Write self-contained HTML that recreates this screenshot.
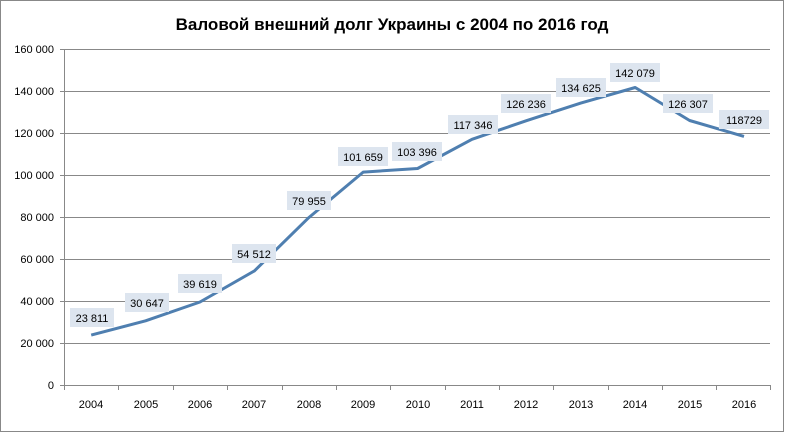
<!DOCTYPE html><html><head><style>body{margin:0;background:#fff}</style></head><body>
<svg width="785" height="433" xmlns="http://www.w3.org/2000/svg" font-family="Liberation Sans, sans-serif">
<rect x="0.5" y="0.5" width="783" height="431" fill="#fff" stroke="#888"/>
<text x="392" y="30" text-anchor="middle" font-size="17" font-weight="bold" fill="#000">Валовой внешний долг Украины с 2004 по 2016 год</text>
<g stroke="#888" stroke-width="1">
<line x1="64" y1="49.5" x2="770" y2="49.5"/><line x1="64" y1="91.5" x2="770" y2="91.5"/><line x1="64" y1="133.5" x2="770" y2="133.5"/><line x1="64" y1="175.5" x2="770" y2="175.5"/><line x1="64" y1="217.5" x2="770" y2="217.5"/><line x1="64" y1="259.5" x2="770" y2="259.5"/><line x1="64" y1="301.5" x2="770" y2="301.5"/><line x1="64" y1="343.5" x2="770" y2="343.5"/><line x1="64" y1="385.5" x2="770" y2="385.5"/>
<line x1="64.5" y1="49" x2="64.5" y2="390"/>
<line x1="60" y1="49.5" x2="64" y2="49.5"/><line x1="60" y1="91.5" x2="64" y2="91.5"/><line x1="60" y1="133.5" x2="64" y2="133.5"/><line x1="60" y1="175.5" x2="64" y2="175.5"/><line x1="60" y1="217.5" x2="64" y2="217.5"/><line x1="60" y1="259.5" x2="64" y2="259.5"/><line x1="60" y1="301.5" x2="64" y2="301.5"/><line x1="60" y1="343.5" x2="64" y2="343.5"/><line x1="60" y1="385.5" x2="64" y2="385.5"/>
<line x1="118.5" y1="385" x2="118.5" y2="390"/><line x1="173.5" y1="385" x2="173.5" y2="390"/><line x1="227.5" y1="385" x2="227.5" y2="390"/><line x1="282.5" y1="385" x2="282.5" y2="390"/><line x1="336.5" y1="385" x2="336.5" y2="390"/><line x1="390.5" y1="385" x2="390.5" y2="390"/><line x1="445.5" y1="385" x2="445.5" y2="390"/><line x1="499.5" y1="385" x2="499.5" y2="390"/><line x1="553.5" y1="385" x2="553.5" y2="390"/><line x1="608.5" y1="385" x2="608.5" y2="390"/><line x1="662.5" y1="385" x2="662.5" y2="390"/><line x1="716.5" y1="385" x2="716.5" y2="390"/><line x1="770.5" y1="385" x2="770.5" y2="390"/>
</g>
<g font-size="11" fill="#000" text-anchor="end">
<text x="54" y="53">160 000</text><text x="54" y="95">140 000</text><text x="54" y="137">120 000</text><text x="54" y="179">100 000</text><text x="54" y="221">80 000</text><text x="54" y="263">60 000</text><text x="54" y="305">40 000</text><text x="54" y="347">20 000</text><text x="54" y="389">0</text>
</g>
<g font-size="11" fill="#000" text-anchor="middle">
<text x="91" y="408">2004</text><text x="146" y="408">2005</text><text x="200" y="408">2006</text><text x="254" y="408">2007</text><text x="309" y="408">2008</text><text x="363" y="408">2009</text><text x="418" y="408">2010</text><text x="472" y="408">2011</text><text x="526" y="408">2012</text><text x="581" y="408">2013</text><text x="635" y="408">2014</text><text x="690" y="408">2015</text><text x="744" y="408">2016</text>
</g>
<polyline fill="none" stroke="#4f7fb0" stroke-width="3" stroke-linejoin="round" points="91.2,335.1 145.6,320.8 200,302 254.4,270.9 308.8,217.6 363.2,172.1 417.6,168.5 472,139.3 526.4,120.7 580.8,103.1 635.2,87.5 689.6,120.5 744,136.4"/>
<g font-size="11" fill="#000" text-anchor="middle">
<g fill="#dde5ef"><rect x="70" y="308" width="44" height="19"/><rect x="125" y="293" width="44" height="19"/><rect x="178" y="274" width="44" height="19"/><rect x="232" y="244" width="44" height="19"/><rect x="287" y="191" width="44" height="19"/><rect x="338" y="147" width="50" height="19"/><rect x="392" y="142" width="50" height="19"/><rect x="448" y="115" width="50" height="19"/><rect x="501" y="94" width="50" height="19"/><rect x="556" y="78" width="50" height="19"/><rect x="610" y="63" width="50" height="19"/><rect x="663" y="94" width="50" height="19"/><rect x="719" y="110" width="50" height="19"/></g>
<text x="92" y="322">23 811</text><text x="147" y="307">30 647</text><text x="200" y="288">39 619</text><text x="254" y="258">54 512</text><text x="309" y="205">79 955</text><text x="363" y="161">101 659</text><text x="417" y="156">103 396</text><text x="473" y="129">117 346</text><text x="526" y="108">126 236</text><text x="581" y="92">134 625</text><text x="635" y="77">142 079</text><text x="688" y="108">126 307</text><text x="744" y="124">118729</text>
</g>
</svg></body></html>
